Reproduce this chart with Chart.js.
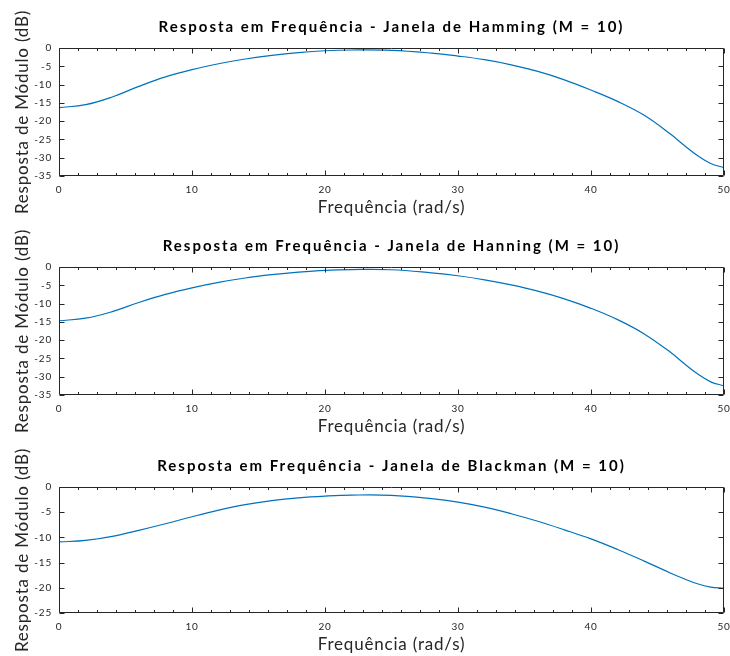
<!DOCTYPE html>
<html>
<head>
<meta charset="utf-8">
<script src="https://cdn.jsdelivr.net/npm/chart.js@4.4.1/dist/chart.umd.min.js"></script>
<style>
  html, body { margin: 0; padding: 0; background: #fff; }
  #wrap { position: relative; width: 730px; height: 656px; }
  .box { position: absolute; left: 0; width: 730px; }
</style>
</head>
<body>
<div id="wrap">
  <div class="box" style="top:0px;height:219px"><canvas id="c1"></canvas></div>
  <div class="box" style="top:219px;height:219px"><canvas id="c2"></canvas></div>
  <div class="box" style="top:439px;height:217px"><canvas id="c3"></canvas></div>
</div>
<script>
// frequency (rad/s) where the curves were read
var freq = [0, 2, 4, 6, 8, 10, 12, 14, 16, 18, 20, 22, 25, 28, 30, 32, 34, 36, 38, 40, 42, 44, 46, 47, 48, 49, 50];

// magnitude (dB) per window
var hamming  = [-16.3, -15.5, -13.4, -10.5, -7.9, -5.9, -4.3, -3.0, -2.0, -1.25, -0.75, -0.55, -0.65, -1.4, -2.2, -3.2, -4.6, -6.4, -8.7, -11.5, -14.6, -18.4, -23.6, -26.6, -29.4, -31.6, -32.7];
var hanning  = [-14.7, -14.0, -12.2, -9.7, -7.5, -5.7, -4.2, -3.0, -2.1, -1.4, -0.9, -0.7, -0.75, -1.6, -2.4, -3.5, -4.9, -6.6, -8.7, -11.3, -14.4, -18.3, -23.4, -26.4, -29.2, -31.4, -32.5];
var blackman = [-10.9, -10.6, -9.8, -8.6, -7.3, -5.9, -4.6, -3.5, -2.7, -2.15, -1.8, -1.6, -1.65, -2.3, -3.0, -4.0, -5.3, -6.8, -8.5, -10.3, -12.4, -14.7, -17.1, -18.2, -19.2, -19.85, -20.1];

var titles = [
  'Resposta em Frequência - Janela de Hamming (M = 10)',
  'Resposta em Frequência - Janela de Hanning (M = 10)',
  'Resposta em Frequência - Janela de Blackman (M = 10)'
];
var yMins = [-35, -35, -25];
var xLabel = 'Frequência (rad/s)';
var yLabel = 'Resposta de Módulo (dB)';

var axisColor = '#262626';
var lineColor = '#0072BD';

// wide letter spacing like the original export, title centred on the axes
var spacing = {
  id: 'spacing',
  beforeLayout: function(chart) {
    chart.boxes.forEach(function(b) {
      if (b._spaced) return;
      var orig = b.draw;
      b.draw = function(area) {
        var ctx = chart.ctx;
        ctx.save();
        if (b === chart.titleBlock) {
          var a = chart.chartArea;
          ctx.translate((a.left + a.right) / 2 - (b.left + b.right) / 2, 0);
          ctx.letterSpacing = '2px';
        } else {
          ctx.letterSpacing = '0.8px';
        }
        orig.call(b, area);
        ctx.restore();
      };
      b._spaced = true;
    });
  }
};

// matlab-like box with inward ticks
var boxTicks = {
  id: 'boxTicks',
  afterDraw: function(chart) {
    var ctx = chart.ctx;
    var a = chart.chartArea;
    var xs = chart.scales.x, ys = chart.scales.y;
    var L = Math.round(a.left) + 0.5, R = Math.round(a.right) - 0.5;
    var T = Math.round(a.top) + 0.5, B = Math.round(a.bottom) - 0.5;
    ctx.save();
    ctx.strokeStyle = axisColor;
    ctx.lineWidth = 1;
    ctx.beginPath();
    ctx.rect(L, T, R - L, B - T);
    xs.ticks.forEach(function(t) {
      var px = Math.round(xs.getPixelForValue(t.value)) + 0.5;
      ctx.moveTo(px, B); ctx.lineTo(px, B - 5);
      ctx.moveTo(px, T); ctx.lineTo(px, T + 5);
      if (t.value < xs.max) {
        for (var k = 1; k < 7; k++) {
          var mx = Math.round(xs.getPixelForValue(t.value + k * 10 / 7)) + 0.5;
          ctx.moveTo(mx, B); ctx.lineTo(mx, B - 2.5);
          ctx.moveTo(mx, T); ctx.lineTo(mx, T + 2.5);
        }
      }
    });
    ys.ticks.forEach(function(t) {
      var py = Math.round(ys.getPixelForValue(t.value)) + 0.5;
      ctx.moveTo(L, py); ctx.lineTo(L + 5, py);
      ctx.moveTo(R, py); ctx.lineTo(R - 5, py);
    });
    ctx.stroke();
    ctx.restore();
  }
};

function makeChart(id, title, values, yMin) {
  var pts = [];
  for (var i = 0; i < freq.length; i++) pts.push({x: freq[i], y: values[i]});
  return new Chart(document.getElementById(id), {
    type: 'line',
    data: {
      datasets: [{
        data: pts,
        borderColor: lineColor,
        borderWidth: 1.2,
        pointRadius: 0,
        fill: false,
        tension: 0.4
      }]
    },
    options: {
      responsive: true,
      maintainAspectRatio: false,
      animation: false,
      layout: { padding: 0 },
      plugins: {
        legend: { display: false },
        tooltip: { enabled: false },
        title: {
          display: true,
          text: title,
          color: '#000',
          font: { family: 'Lato', size: 15, weight: 'bold', lineHeight: 1.2 },
          padding: { top: 18, bottom: 12 }
        }
      },
      scales: {
        x: {
          type: 'linear',
          min: 0, max: 50,
          grid: { display: false, drawTicks: false },
          border: { display: false },
          ticks: { stepSize: 10, color: axisColor, padding: 8, font: { family: 'Lato', size: 10 }, maxRotation: 0 },
          title: { display: true, text: xLabel, color: axisColor, font: { family: 'Lato', size: 17 }, padding: { top: 0, bottom: 1 } },
          afterFit: function(s) { s.height = 43; s.paddingLeft = 0; s.paddingRight = 6; }
        },
        y: {
          min: yMin, max: 0,
          grid: { display: false, drawTicks: false },
          border: { display: false },
          ticks: { stepSize: 5, color: axisColor, padding: 7, font: { family: 'Lato', size: 10 } },
          title: { display: true, text: yLabel, color: axisColor, font: { family: 'Lato', size: 17 }, padding: { top: 12, bottom: 0 } },
          afterFit: function(s) { s.width = 59; s.paddingTop = 0; s.paddingBottom = 0; }
        }
      }
    },
    plugins: [spacing, boxTicks]
  });
}

makeChart('c1', titles[0], hamming, yMins[0]);
makeChart('c2', titles[1], hanning, yMins[1]);
makeChart('c3', titles[2], blackman, yMins[2]);
</script>
</body>
</html>
